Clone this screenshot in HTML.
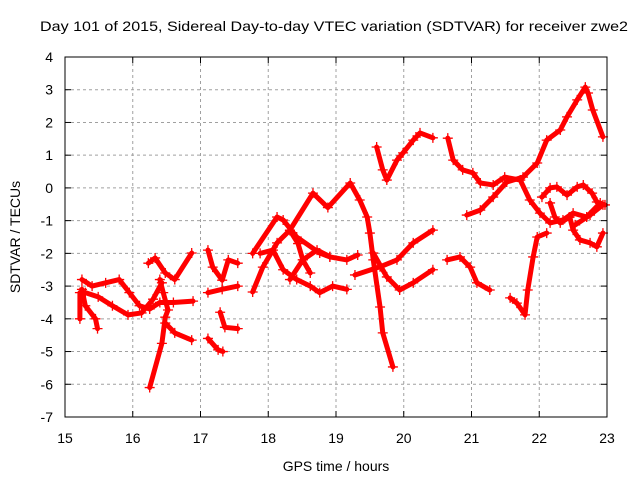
<!DOCTYPE html>
<html><head><meta charset="utf-8"><style>
body{margin:0;background:#fff}
svg{display:block;font-family:"Liberation Sans",sans-serif}
</style></head><body>
<svg id="chart" width="640" height="480">
<text x="334" y="31" font-size="14" text-anchor="middle" textLength="588" lengthAdjust="spacingAndGlyphs">Day 101 of 2015, Sidereal Day-to-day VTEC variation (SDTVAR) for receiver zwe2</text>
<text x="336" y="471" font-size="14" text-anchor="middle">GPS time / hours</text>
<text transform="translate(20,237) rotate(-90)" font-size="14" text-anchor="middle">SDTVAR / TECUs</text>
<g id="grid"></g><g id="ticks"></g><g id="marks"></g>
<rect x="65" y="57" width="542" height="360" fill="none" stroke="#000" stroke-width="1"/>
</svg>
<script>
const xTicks=[15,16,17,18,19,20,21,22,23];
const yTicks=[4,3,2,1,0,-1,-2,-3,-4,-5,-6,-7];
const tracks=[
[[15.25,-2.8],[15.4,-3.0],[15.6,-2.9],[15.8,-2.8],[15.95,-3.2],[16.1,-3.6],[16.25,-3.7],[16.4,-3.5],[16.6,-3.5],[16.89,-3.46]],
[[15.3,-3.2],[15.49,-3.33],[15.7,-3.6],[15.93,-3.88],[16.13,-3.82],[16.3,-3.4],[16.43,-2.9]],
[[16.23,-2.3],[16.33,-2.14],[16.48,-2.6],[16.62,-2.8],[16.87,-1.99]],
[[16.25,-6.1],[16.43,-4.75],[16.48,-3.95],[16.52,-3.73],[16.45,-3.2],[16.4,-2.8]],
[[16.48,-4.13],[16.62,-4.43],[16.87,-4.65]],
[[15.25,-3.1],[15.3,-3.6],[15.45,-4.0],[15.48,-4.3]],
[[15.22,-3.2],[15.22,-4.0]],
[[17.11,-1.9],[17.18,-2.42],[17.32,-2.82],[17.41,-2.2],[17.55,-2.3]],
[[17.11,-3.2],[17.32,-3.1],[17.55,-3.0]],
[[17.29,-3.8],[17.36,-4.26],[17.55,-4.3]],
[[17.11,-4.6],[17.26,-4.95],[17.33,-5.0]],
[[17.77,-3.18],[17.92,-2.42],[18.13,-1.68],[18.32,-1.29],[18.66,-0.16],[18.88,-0.6],[19.21,0.15],[19.35,-0.37],[19.46,-0.89],[19.5,-1.38],[19.55,-2.2],[19.65,-3.64],[19.69,-4.43],[19.84,-5.47]],
[[17.77,-2.0],[18.13,-0.89],[18.22,-0.98],[18.42,-1.5],[18.76,-1.99],[18.91,-2.11],[19.16,-2.2],[19.32,-2.05]],
[[17.88,-2.0],[18.07,-1.9],[18.22,-2.5],[18.42,-2.8],[18.62,-3.0],[18.76,-3.2],[18.95,-3.0],[19.16,-3.1]],
[[18.32,-2.8],[18.51,-2.2],[18.72,-1.9],[18.91,-2.1]],
[[18.32,-1.3],[18.44,-1.7],[18.51,-2.2],[18.62,-2.6]],
[[19.28,-2.66],[19.65,-2.41],[19.9,-2.2],[20.14,-1.68],[20.43,-1.29]],
[[19.55,-1.99],[19.75,-2.72],[19.94,-3.12],[20.14,-2.9],[20.43,-2.5]],
[[19.6,1.25],[19.69,0.55],[19.75,0.24],[19.9,0.85],[19.99,1.07],[20.14,1.46],[20.24,1.68],[20.43,1.53]],
[[20.65,1.52],[20.73,0.85],[20.87,0.55],[21.02,0.46],[21.13,0.15],[21.32,0.09],[21.49,0.33],[21.72,0.24],[21.86,-0.37],[22.01,-0.77],[22.16,-1.07],[22.35,-0.98],[22.5,-0.77],[22.7,-0.89],[22.9,-0.46]],
[[20.93,-0.83],[21.13,-0.68],[21.32,-0.28],[21.52,0.18],[21.76,0.33],[21.97,0.76],[22.11,1.46],[22.31,1.77],[22.41,2.17],[22.56,2.69],[22.68,3.08],[22.72,2.9],[22.79,2.38],[22.94,1.56]],
[[22.04,-0.28],[22.16,0],[22.26,0.03],[22.41,-0.22],[22.56,0.03],[22.65,0.09],[22.78,-0.16],[22.85,-0.43],[22.97,-0.52]],
[[22.16,-0.46],[22.23,-0.89],[22.31,-1.07],[22.45,-0.89],[22.5,-1.29],[22.6,-1.59],[22.75,-1.68],[22.85,-1.8],[22.94,-1.38]],
[[22.53,-1.13],[22.75,-0.83],[22.94,-0.52]],
[[20.64,-2.2],[20.83,-2.11],[20.98,-2.42],[21.08,-2.9],[21.27,-3.12]],
[[21.57,-3.36],[21.67,-3.52],[21.79,-3.88],[21.83,-3.12],[21.91,-2.11],[21.97,-1.5],[22.11,-1.38]]
];
const NS='http://www.w3.org/2000/svg';
const X=t=>65+(t-15)*67.75;
const Y=v=>57+(4-v)*32.727;
function mk(tag,attrs,parent){const e=document.createElementNS(NS,tag);for(const k in attrs)e.setAttribute(k,attrs[k]);parent.appendChild(e);return e;}
const grid=document.getElementById('grid'),ticks=document.getElementById('ticks'),marks=document.getElementById('marks');
xTicks.forEach(t=>{
  const x=X(t);
  if(t>15&&t<23){const g=mk('line',{x1:x,y1:57,x2:x,y2:417,stroke:'#a0a0a0','stroke-dasharray':'3,3'},grid);
  
  }
  mk('line',{x1:x,y1:417,x2:x,y2:411,stroke:'#000'},ticks);
  mk('line',{x1:x,y1:57,x2:x,y2:63,stroke:'#000'},ticks);
  const l=mk('text',{x:x,y:443,'font-size':14,'text-anchor':'middle'},ticks);l.textContent=t;
  
  
});
yTicks.forEach(v=>{
  const y=Y(v);
  if(v<4&&v>-7){const g=mk('line',{x1:65,y1:y,x2:607,y2:y,stroke:'#a0a0a0','stroke-dasharray':'3,3'},grid);
  
  }
  mk('line',{x1:65,y1:y,x2:71,y2:y,stroke:'#000'},ticks);
  mk('line',{x1:607,y1:y,x2:601,y2:y,stroke:'#000'},ticks);
  const l=mk('text',{x:53,y:y+5,'font-size':14,'text-anchor':'end'},ticks);l.textContent=v;
  
  
});
tracks.forEach((tr,i)=>{
  const g=mk('g',{},marks);
  
  
  mk('polyline',{points:tr.map(p=>X(p[0])+','+Y(p[1])).join(' '),fill:'none',stroke:'#f00','stroke-width':5,'stroke-linejoin':'round','stroke-linecap':'round'},g);
  tr.forEach(p=>{const x=X(p[0]),y=Y(p[1]);
    mk('path',{d:`M${x-5},${y}H${x+5}M${x},${y-5}V${y+5}`,stroke:'#f00','stroke-width':1.3},g);});
});
</script>
</body></html>
